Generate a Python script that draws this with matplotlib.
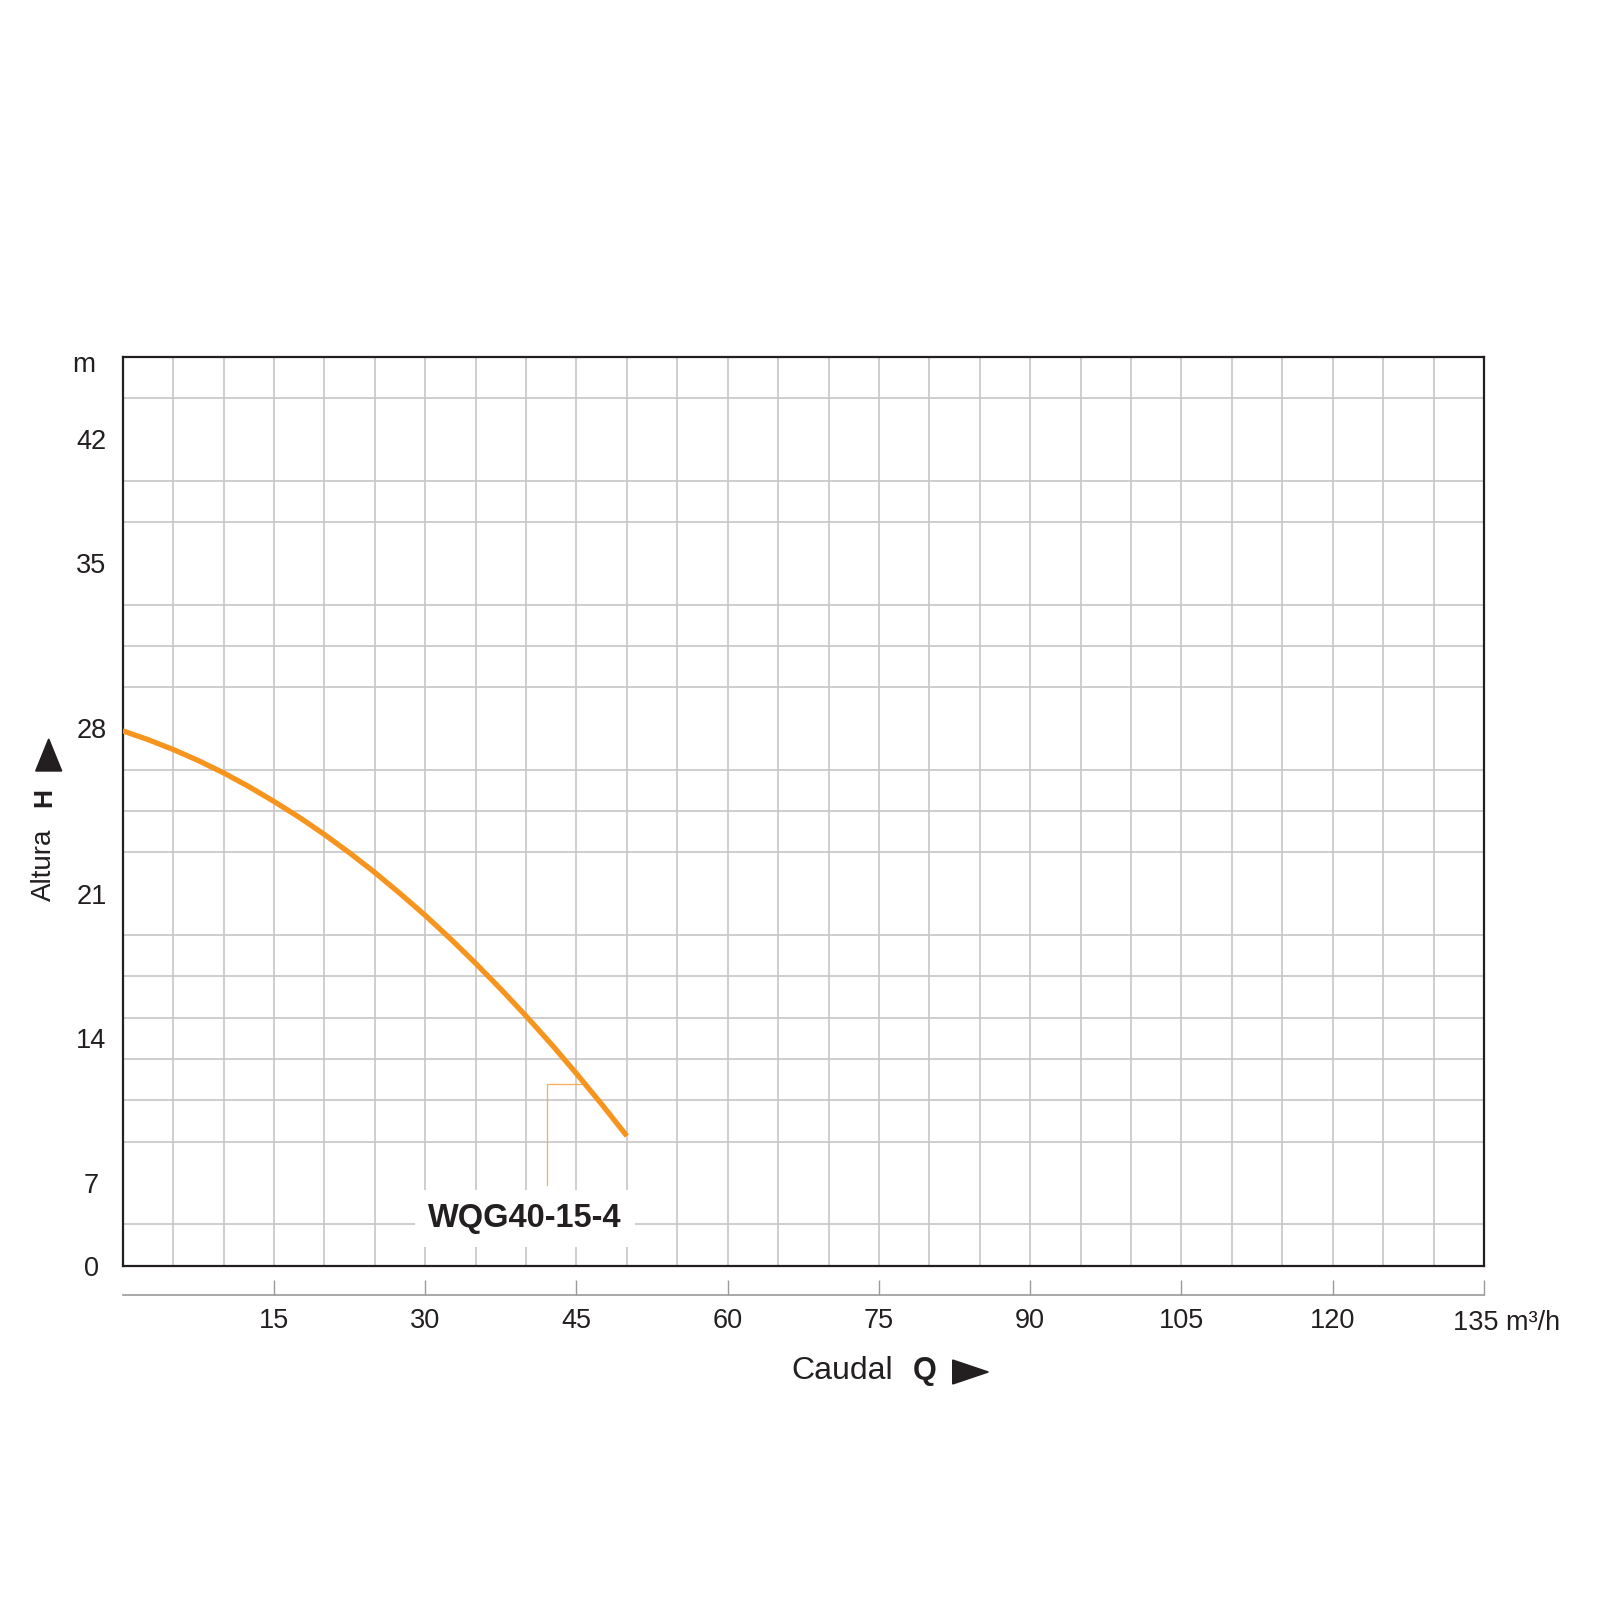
import numpy as np
import matplotlib
matplotlib.use('Agg')
import matplotlib.pyplot as plt
from matplotlib.patches import Polygon
from matplotlib.scale import FuncScale

plt.rcParams['font.family'] = ['Liberation Sans', 'DejaVu Sans']

# Pump curve
model_name = 'WQG40-15-4'
flow = [0, 2.5, 5, 7.5, 10, 12.5, 15, 17.5, 20, 22.5, 25,
        27.5, 30, 32.5, 35, 37.5, 40, 42.5, 45, 47.5, 50]                  # m3/h
head = [27.9, 27.53, 27.11, 26.64, 26.12, 25.54, 24.91, 24.24, 23.51, 22.73, 21.9,
        21.01, 19.95, 18.82, 17.63, 16.38, 15.08, 13.72, 12.29, 10.81, 9.27]  # m

# Axis labelling
x_ticks = [15, 30, 45, 60, 75, 90, 105, 120, 135]
x_unit = 'm³/h'
y_ticks = [0, 7, 14, 21, 28, 35, 42]
y_unit = 'm'

# The printed head axis is not linear: label value -> grid row
head_nodes = [0, 7, 14, 21, 28, 35, 42, 48]
grid_nodes = [0, 2, 5.5, 9, 13, 17, 20, 22]


def fwd(h):
    return np.interp(h, head_nodes, grid_nodes)


def inv(g):
    return np.interp(g, grid_nodes, head_nodes)


# Leader from the curve to the model label (flow, head)
leader_q = [45.4, 42.1, 42.1]
leader_h = [inv(4.40), inv(4.40), inv(1.94)]
label_q, label_h = 39.9, inv(0.94)

orange = '#f7941d'
dark = '#231f20'
W = 1600


def px(x, y):
    return (x / W, 1 - y / W)


fig = plt.figure(figsize=(16, 16), dpi=100)
ax = fig.add_axes([122.7 / W, 1 - 1265.5 / W, (1484 - 122.7) / W, (1265.5 - 356.7) / W])
ax.set_yscale(FuncScale(ax, (fwd, inv)))
ax.set_xlim(0, 135)
ax.set_ylim(0, 48)

# grid
ax.set_xticks([])
ax.set_xticks(np.arange(5, 135, 5), minor=True)
ax.set_yticks(inv(np.arange(1, 22)), minor=True)
ax.grid(True, which='minor', color='#c6c6c6', linewidth=1.2)
ax.tick_params(which='minor', length=0)
ax.tick_params(axis='x', which='both', labelbottom=False, length=0)

ax.set_yticks(y_ticks)
ax.set_yticklabels([str(v) for v in y_ticks], ha='center')
ax.tick_params(axis='y', which='major', length=0, pad=22.5, labelsize=19.5, labelcolor=dark)

for s in ax.spines.values():
    s.set_color(dark)
    s.set_linewidth(1.6)

# lower flow scale (last label carries the unit, drawn separately)
sec = ax.secondary_xaxis(-0.0325)
sec.set_xticks(x_ticks)
sec.set_xticklabels([str(v) for v in x_ticks[:-1]] + [''])
sec.spines['bottom'].set_color('#9a9a9a')
sec.spines['bottom'].set_linewidth(1.2)
sec.tick_params(direction='in', length=10.8, width=1, color='#9a9a9a',
                pad=9.5, labelsize=19.5, labelcolor=dark)
fig.text(*px(1452.7, 1322.5), f'{x_ticks[-1]} {x_unit}', fontsize=19.5, color=dark,
         ha='left', va='center')

# pump curve
ax.plot(flow, head, color=orange, linewidth=3.8, solid_capstyle='butt',
        solid_joinstyle='round', zorder=4)
ax.plot(leader_q, leader_h, color='#f8ab52', linewidth=0.9, zorder=3)
ax.text(label_q, label_h, model_name, fontsize=23.5, fontweight='bold', color=dark,
        ha='center', va='baseline', zorder=5,
        bbox=dict(boxstyle='square,pad=0.4', facecolor='white', edgecolor='none'))

# axis titles
fig.text(*px(84, 372), y_unit, fontsize=20, color=dark, ha='center', va='baseline')
fig.text(*px(44, 865), 'Altura', fontsize=20, color=dark, rotation=90, ha='center', va='center')
fig.text(*px(44, 797.5), 'H', fontsize=19, fontweight='bold', color=dark, rotation=90,
         ha='center', va='center')
fig.text(*px(842.5, 1371), 'Caudal', fontsize=23, color=dark, ha='center', va='center')
fig.text(*px(925, 1371), 'Q', fontsize=22, fontweight='bold', color=dark, ha='center', va='center')
fig.add_artist(Polygon([px(48.7, 739), px(35.7, 771), px(61.7, 771)], closed=True,
                       transform=fig.transFigure, color=dark))
fig.add_artist(Polygon([px(952.7, 1360), px(952.7, 1384), px(988.3, 1372)], closed=True,
                       transform=fig.transFigure, color=dark))

fig.savefig('out.png', dpi=100, facecolor='white')
